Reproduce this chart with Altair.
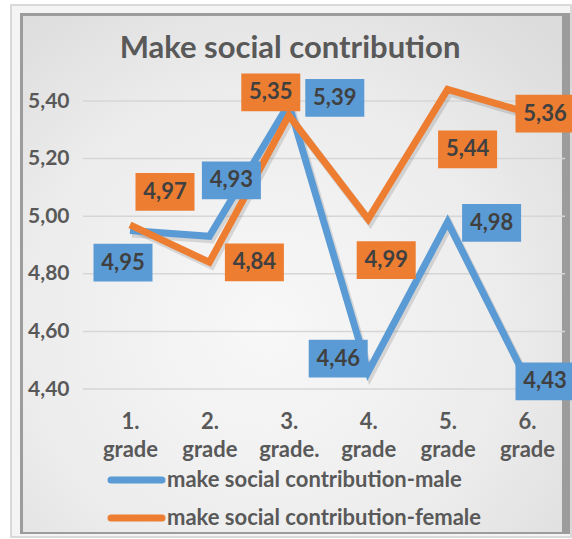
import altair as alt
import pandas as pd

# ---- data ----
grades = ["1. grade", "2. grade", "3. grade.", "4. grade", "5. grade", "6. grade"]
male = [4.95, 4.93, 5.39, 4.46, 4.98, 4.43]
female = [4.97, 4.84, 5.35, 4.99, 5.44, 5.36]
series_names = ["make social contribution-male", "make social contribution-female"]
y_ticks = [4.40, 4.60, 4.80, 5.00, 5.20, 5.40]
title_text = ["Make social contribution"]

# ---- label placement (pixel offsets of the data-label boxes) ----
male_dx = [-7, 22, 46, -30, 44, 18]
male_dy = [32, -56, -6, -13, 1, 1]
female_dx = [35, 45, -18, 18, 20, 18]
female_dy = [-33, 0, -23, 41, 60, 1]

COLORS = ["#5B9BD5", "#ED7D31"]
FONT = "Lato"
TXT = "#595959"

# plot area geometry
L, T, W, H = 83, 101, 482, 288
TOTAL_W, TOTAL_H = 572, 539
Y_DOMAIN = [4.40, 5.40]
PX_PER_UNIT = H / (Y_DOMAIN[1] - Y_DOMAIN[0])
LEGEND_ROWS = [480, 518]

rows = []
for i, g in enumerate(grades):
    rows.append(dict(grade=g, value=male[i], series=series_names[0], dx=male_dx[i], dy=male_dy[i]))
for i, g in enumerate(grades):
    rows.append(dict(grade=g, value=female[i], series=series_names[1], dx=female_dx[i], dy=female_dy[i]))
df = pd.DataFrame(rows)
df["label"] = df["value"].map(lambda v: f"{v:.2f}".replace(".", ","))
# label anchor: the value shifted by the pixel offset, mapped through the y scale
df["label_y"] = df["value"] - df["dy"] / PX_PER_UNIT

grid_df = pd.DataFrame({"tick": y_ticks})
title_df = pd.DataFrame({"t": title_text})

y_scale = alt.Scale(domain=Y_DOMAIN, nice=False, zero=False)
x_scale = alt.Scale(type="point", range=[47, 444], padding=0)
color_scale = alt.Scale(domain=series_names, range=COLORS)

y_axis = alt.Axis(title=None, values=y_ticks, domain=False, ticks=False, grid=False,
                  labelExpr="replace(format(datum.value, '.2f'), '.', ',')",
                  labelFont=FONT, labelFontSize=21, labelFontWeight="bold",
                  labelColor=TXT, labelPadding=14, zindex=1)

x_enc = alt.X("grade:N", sort=grades, scale=x_scale,
              axis=alt.Axis(title=None, labelAngle=0, domain=False, ticks=False, grid=False,
                            labelExpr="split(datum.value, ' ')", labelFont=FONT,
                            labelFontSize=22, labelFontWeight="bold", labelColor=TXT,
                            labelLineHeight=28, labelPadding=22, zindex=1))
y_enc = alt.Y("value:Q", scale=y_scale, axis=y_axis)
color_enc = alt.Color("series:N", scale=color_scale, legend=None)

base = alt.Chart(df)

# decorative frame / background (page pixel -> plot-relative)
def px(v):
    return alt.value(v - L)
def py(v):
    return alt.value(v - T)

frame_outer = base.mark_rect(fill="#d9d9d9").encode(x=px(10), x2=px(572), y=py(4), y2=py(538))
frame_light = base.mark_rect(fill="#f4f4f4").encode(x=px(12), x2=px(570), y=py(6), y2=py(536))
frame_dark = base.mark_rect(fill="#9c9c9c").encode(x=px(20), x2=px(570), y=py(13), y2=py(534))
panel = base.mark_rect(
    fill=alt.Gradient(gradient="radial",
                      stops=[alt.GradientStop(offset=0, color="#f8f8f8"),
                             alt.GradientStop(offset=0.6, color="#ececec"),
                             alt.GradientStop(offset=1, color="#dcdcdc")],
                      x1=0.45, y1=0.6, r1=0, x2=0.45, y2=0.6, r2=0.75)
).encode(x=px(23), x2=px(562), y=py(16), y2=py(532))

grid = alt.Chart(grid_df).mark_rule(color="#d6d6d6", strokeWidth=1.5).encode(
    y=alt.Y("tick:Q", scale=y_scale, axis=y_axis), x=alt.value(0), x2=alt.value(W))

shadow = base.mark_line(strokeWidth=8, color="#000000", opacity=0.12, xOffset=2, yOffset=3,
                        strokeJoin="miter").encode(x=x_enc, y=y_enc, detail="series:N")

lines_m = base.transform_filter(alt.datum.series == series_names[0]).mark_line(
    strokeWidth=7, strokeJoin="miter").encode(x=x_enc, y=y_enc, color=color_enc)
lines_f = base.transform_filter(alt.datum.series == series_names[1]).mark_line(
    strokeWidth=7, strokeJoin="miter").encode(x=x_enc, y=y_enc, color=color_enc)

box_path = "M-1,-0.64L1,-0.64L1,0.64L-1,0.64Z"
boxes = base.mark_point(shape=box_path, size=59 * 59, filled=True, opacity=1,
                        strokeWidth=0).encode(
    x=x_enc,
    y=alt.Y("label_y:Q", scale=y_scale, axis=y_axis),
    xOffset=alt.XOffset("dx:Q", scale=None),
    color=color_enc)

texts = base.mark_text(font=FONT, fontSize=22, fontWeight="bold", color="#404040",
                       baseline="middle", align="center").encode(
    x=x_enc,
    y=alt.Y("label_y:Q", scale=y_scale, axis=y_axis),
    xOffset=alt.XOffset("dx:Q", scale=None),
    text="label:N")

title = alt.Chart(title_df).mark_text(font=FONT, fontSize=31, fontWeight="bold", color=TXT,
                                      align="center", baseline="alphabetic").encode(
    x=px(290), y=py(58), text="t:N")

# legend (two rows: line swatch + label)
legend_layers = []
for i, name in enumerate(series_names):
    ldf = pd.DataFrame({"series": [name]})
    legend_layers.append(
        alt.Chart(ldf).mark_rule(strokeWidth=7, strokeCap="round").encode(
            x=px(111), x2=px(162), y=py(LEGEND_ROWS[i]), color=color_enc))
    legend_layers.append(
        alt.Chart(ldf).mark_text(font=FONT, fontSize=22, fontWeight="bold", color=TXT,
                                 align="left", baseline="middle").encode(
            x=px(167), y=py(LEGEND_ROWS[i]), text="series:N"))

chart = alt.layer(frame_outer, frame_light, frame_dark, panel, grid, shadow,
                  lines_m, lines_f, boxes, texts, title, *legend_layers).properties(
    width=W, height=H,
    padding={"left": L, "top": T, "right": TOTAL_W - L - W, "bottom": TOTAL_H - T - H},
    autosize=alt.AutoSizeParams(type="none"),
    background="white",
).configure_view(stroke=None)

chart.save("out.html", embed_options={"renderer": "svg", "actions": False})
